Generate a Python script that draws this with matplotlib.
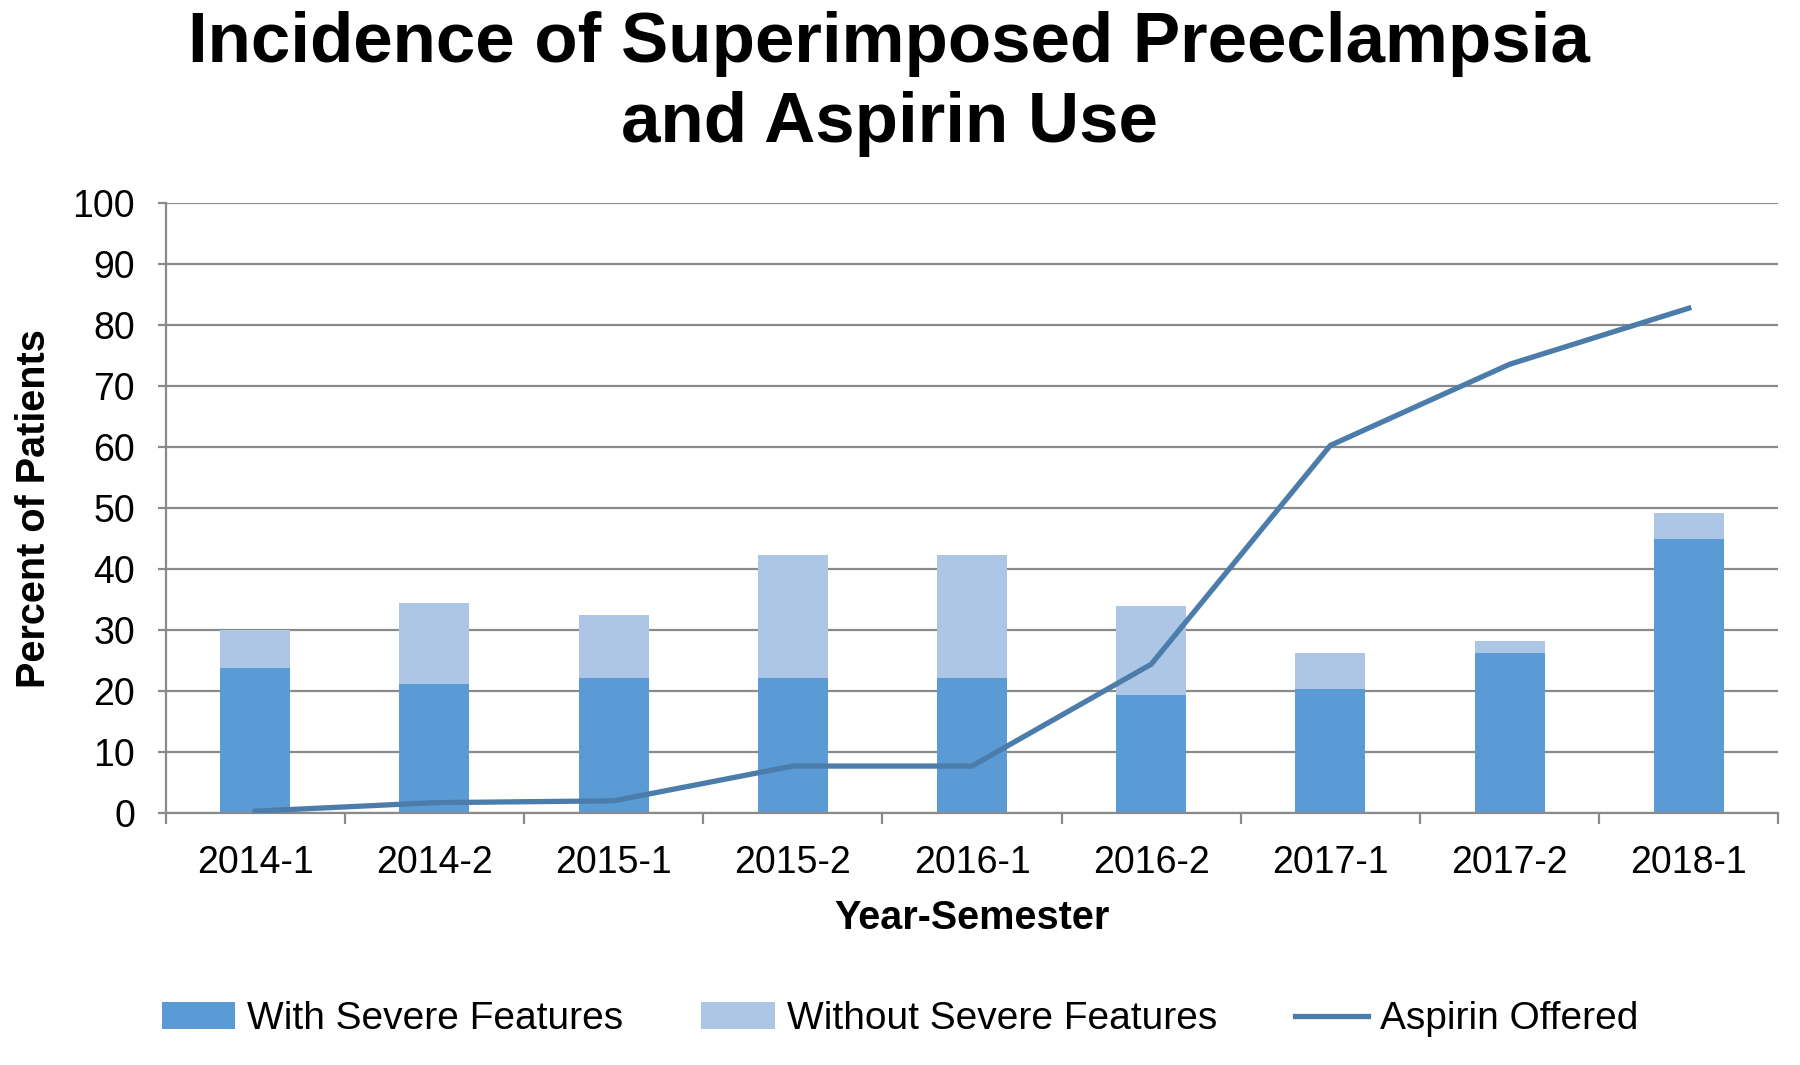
import matplotlib.pyplot as plt
import numpy as np

plt.rcParams['font.family'] = ['Liberation Sans', 'DejaVu Sans']

periods = ['2014-1', '2014-2', '2015-1', '2015-2', '2016-1', '2016-2', '2017-1', '2017-2', '2018-1']
with_severe = [23.8, 21.2, 22.2, 22.2, 22.2, 19.4, 20.3, 26.3, 44.9]
without_severe = [6.2, 13.3, 10.3, 20.1, 20.1, 14.6, 5.9, 1.9, 4.3]
aspirin = [0.3, 1.7, 2.0, 7.7, 7.7, 24.4, 60.3, 73.6, 82.8]

dark = '#5b9bd5'
light = '#adc6e5'
line_col = '#4b7caa'
grid_col = '#8a8a8a'

fig = plt.figure(figsize=(18, 10.65), dpi=100)
ax = fig.add_axes([0.092, 0.2366, 0.896, 0.5725])

x = np.arange(len(periods))
b1 = ax.bar(x, with_severe, width=0.39, color=dark, label='With Severe Features', zorder=2)
b2 = ax.bar(x, without_severe, width=0.39, bottom=with_severe, color=light,
            label='Without Severe Features', zorder=2)
l1, = ax.plot(x, aspirin, color=line_col, lw=3.8, label='Aspirin Offered', zorder=3)

ax.set_xlim(-0.5, len(periods) - 0.5)
ax.set_ylim(0, 100)
ax.set_yticks(range(0, 101, 10))
ax.yaxis.grid(True, color=grid_col, lw=1.6, zorder=0)
ax.set_axisbelow(True)

ax.set_xticks(x)
ax.set_xticklabels(periods)
ax.set_xticks(np.arange(-0.5, len(periods)), minor=True)
ax.tick_params(axis='x', which='major', length=0, pad=23, labelsize=27)
ax.tick_params(axis='x', which='minor', length=8, width=1.6, color=grid_col)
ax.tick_params(axis='y', length=6, width=1.6, color=grid_col, pad=16, labelsize=27)

for s in ['top', 'right']:
    ax.spines[s].set_visible(False)
for s in ['left', 'bottom']:
    ax.spines[s].set_color(grid_col)
    ax.spines[s].set_linewidth(1.6)

ax.set_ylabel('Percent of Patients', fontsize=28.5, fontweight='bold', labelpad=14)
ax.set_xlabel('Year-Semester', fontsize=28.5, fontweight='bold', labelpad=13)

fig.text(0.494, 0.99, 'Incidence of Superimposed Preeclampsia\nand Aspirin Use',
         ha='center', va='top', fontsize=51, fontweight='bold', linespacing=1.28)

fig.legend(handles=[b1, b2, l1], loc='center', bbox_to_anchor=(0.5, 0.043), ncol=3,
           frameon=False, fontsize=28, handlelength=1.9, handletextpad=0.3,
           columnspacing=2.0)

fig.savefig('out.png', dpi=100)
